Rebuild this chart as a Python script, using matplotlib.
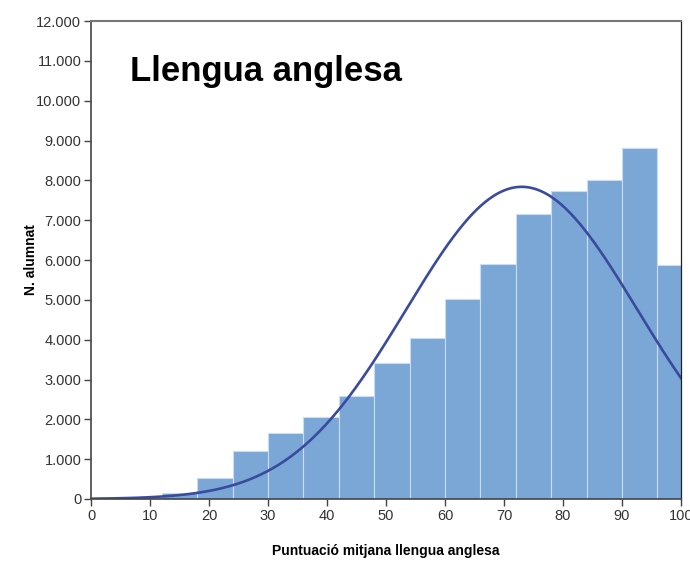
import numpy as np
import matplotlib.pyplot as plt

# histogram counts per 6-point bin (last bin clipped at 100)
bin_edges = [0, 6, 12, 18, 24, 30, 36, 42, 48, 54, 60, 66, 72, 78, 84, 90, 96, 100]
counts = [10, 30, 140, 520, 1215, 1650, 2070, 2590, 3410, 4050, 5010,
          5910, 7150, 7720, 8010, 8820, 5870]

# normal curve fitted by SPSS
fit_mean = 73.0
fit_sd = 19.6
bin_width = 6

plt.rcParams['font.family'] = ['Liberation Sans', 'DejaVu Sans']

fig = plt.figure(figsize=(6.9, 5.62), dpi=100)
ax = fig.add_axes([0.1319, 0.1121, 0.8551, 0.8505])

lefts = bin_edges[:-1]
widths = np.diff(bin_edges)
ax.bar(lefts, counts, width=widths, align='edge', color='#7BA7D6',
       edgecolor='#C9DCF1', linewidth=0.8)

n_total = sum(counts)
xs = np.linspace(0, 100, 400)
ys = n_total * bin_width / (fit_sd * np.sqrt(2 * np.pi)) * np.exp(-(xs - fit_mean) ** 2 / (2 * fit_sd ** 2))
ax.plot(xs, ys, color='#3A4B9E', linewidth=1.9)

ax.set_xlim(0, 100)
ax.set_ylim(0, 12000)
ax.set_xticks(range(0, 101, 10))
ax.set_yticks(range(0, 12001, 1000))
ax.set_yticklabels(['0'] + ['{:,}'.format(v).replace(',', '.') for v in range(1000, 12001, 1000)])

ax.tick_params(axis='both', direction='out', length=5, width=1, color='#444444',
               labelsize=10.5, labelcolor='#333333', pad=2)
for side in ['left', 'bottom']:
    ax.spines[side].set_color('#444444')
    ax.spines[side].set_linewidth(1.2)
ax.spines['top'].set_color('#777777')
ax.spines['top'].set_linewidth(1.5)
ax.spines['right'].set_color('#222222')
ax.spines['right'].set_linewidth(0.9)

ax.set_xlabel('Puntuació mitjana llengua anglesa', fontsize=10, fontweight='bold', labelpad=15)
ax.set_ylabel('N. alumnat', fontsize=10, fontweight='bold')
ax.yaxis.set_label_coords(-0.09, 0.5)

ax.text(0.066, 0.895, 'Llengua anglesa', transform=ax.transAxes, fontsize=25,
        fontweight='bold', va='center', ha='left', color='black')

fig.savefig('out.png', dpi=100)
